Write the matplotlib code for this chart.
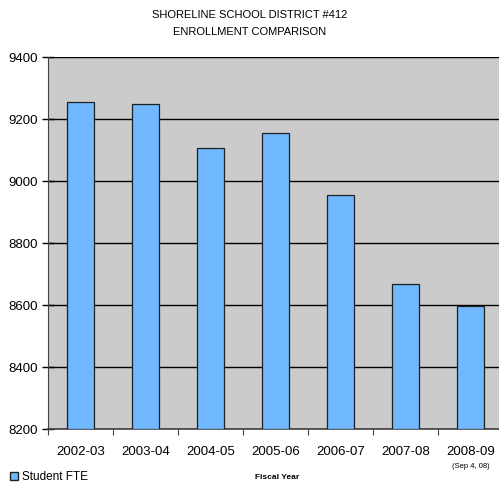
import matplotlib
matplotlib.use("Agg")
import matplotlib.pyplot as plt
import matplotlib.patches as mpatches

# Data
years = ["2002-03", "2003-04", "2004-05", "2005-06", "2006-07", "2007-08", "2008-09"]
student_fte = [9255, 9248, 9106, 9155, 8955, 8668, 8597]
y_ticks = [8200, 8400, 8600, 8800, 9000, 9200, 9400]

plt.rcParams['font.family'] = ['Liberation Sans', 'DejaVu Sans']

fig = plt.figure(figsize=(4.99, 4.86), dpi=100)
# plot area runs slightly past the right edge, like the original
ax = fig.add_axes([48 / 499, 1 - 429 / 486, 455 / 499, 372 / 486])
ax.set_facecolor("#CBCBCB")

x = list(range(len(years)))
ax.bar(x, [v - 8200 for v in student_fte], bottom=8200, width=0.42,
       color="#70B8FF", edgecolor="#202020", linewidth=0.9, zorder=3)

ax.set_ylim(8200, 9400)
ax.set_xlim(-0.5, len(years) - 0.5)
ax.set_yticks(y_ticks)
ax.set_yticklabels([str(t) for t in y_ticks], fontsize=9.5)
ax.yaxis.grid(True, color="black", linewidth=1.0, zorder=1)
ax.tick_params(axis='y', direction='inout', length=8, width=1, pad=3)

# category ticks sit between bars; labels go in the middle
ax.set_xticks([i + 0.5 for i in range(len(years) - 1)] + [-0.5])
ax.set_xticklabels([])
ax.tick_params(axis='x', direction='out', length=4, width=0.8, color="#404040")
for i, lab in enumerate(years):
    ax.text(i, 8200 - 75, lab, ha='center', va='center', fontsize=9.5)
ax.text(len(years) - 1, 8200 - 120, "(Sep 4, 08)", ha='center', va='center', fontsize=5.5)

for side in ['top', 'right']:
    ax.spines[side].set_visible(False)
ax.spines['left'].set_color("#404040")
ax.spines['bottom'].set_color("#404040")
ax.spines['bottom'].set_linewidth(1.2)

fig.text(0.5, 1 - 15 / 486, "SHORELINE SCHOOL DISTRICT #412", ha='center', va='center', fontsize=8)
fig.text(0.5, 1 - 32 / 486, "ENROLLMENT COMPARISON", ha='center', va='center', fontsize=8)
fig.text(277 / 499, 1 - 477 / 486, "Fiscal Year", ha='center', va='center', fontsize=6, fontweight='bold')

handle = mpatches.Patch(facecolor="#70B8FF", edgecolor="#202020", label="Student FTE")
fig.legend(handles=[handle], loc='center left', bbox_to_anchor=(10 / 499, 1 - 477 / 486),
           frameon=False, fontsize=8.5, handlelength=0.7, handleheight=0.7,
           handletextpad=0.3, borderaxespad=0, borderpad=0)

fig.savefig("out.png", dpi=100)
